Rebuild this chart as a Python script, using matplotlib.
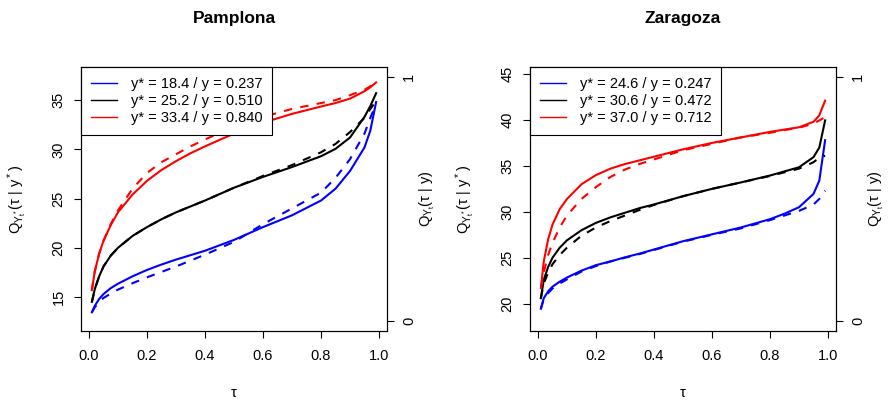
import matplotlib
matplotlib.use("Agg")
import matplotlib.pyplot as plt
from matplotlib.lines import Line2D

plt.rcParams['font.family'] = ['Liberation Sans', 'DejaVu Sans']
plt.rcParams['mathtext.fontset'] = 'custom'
plt.rcParams['mathtext.rm'] = 'Liberation Sans'
plt.rcParams['mathtext.it'] = 'Liberation Sans'
plt.rcParams['mathtext.bf'] = 'Liberation Sans:bold'

tau = [0.01, 0.02, 0.035, 0.05, 0.075, 0.1, 0.15, 0.2, 0.25, 0.3, 0.35, 0.4,
       0.5, 0.6, 0.7, 0.8, 0.85, 0.9, 0.95, 0.97, 0.99]

# Pamplona
pam_labels = ["y* = 18.4 / y = 0.237", "y* = 25.2 / y = 0.510", "y* = 33.4 / y = 0.840"]
pam_blue_solid = [13.45, 14.1, 14.8, 15.3, 15.9, 16.35, 17.1, 17.75, 18.3, 18.8, 19.25, 19.7,
                  20.8, 22.1, 23.3, 24.8, 26.0, 27.8, 30.2, 31.9, 34.8]
pam_blue_dash = [13.45, 13.95, 14.5, 14.9, 15.35, 15.75, 16.4, 17.0, 17.55, 18.1, 18.7, 19.3,
                 20.6, 22.4, 24.0, 25.6, 27.1, 29.0, 31.6, 33.2, 34.6]
pam_black_solid = [14.5, 15.8, 17.1, 18.1, 19.2, 20.0, 21.2, 22.1, 22.9, 23.6, 24.2, 24.8,
                   26.1, 27.2, 28.2, 29.3, 30.05, 31.2, 33.3, 34.4, 35.7]
pam_black_dash = [14.5, 15.8, 17.1, 18.1, 19.2, 20.0, 21.2, 22.1, 22.9, 23.6, 24.2, 24.8,
                  26.1, 27.3, 28.4, 29.7, 30.55, 31.75, 33.2, 34.1, 34.9]
pam_red_solid = [15.7, 17.6, 19.4, 20.7, 22.3, 23.6, 25.4, 26.8, 27.9, 28.8, 29.6, 30.3,
                 31.6, 32.7, 33.6, 34.35, 34.7, 35.15, 35.9, 36.3, 36.8]
pam_red_dash = [15.7, 17.6, 19.4, 20.7, 22.4, 23.8, 26.0, 27.6, 28.7, 29.5, 30.3, 31.0,
                32.3, 33.3, 34.1, 34.7, 35.0, 35.5, 36.05, 36.4, 36.8]

# Zaragoza
zar_labels = ["y* = 24.6 / y = 0.247", "y* = 30.6 / y = 0.472", "y* = 37.0 / y = 0.712"]
zar_blue_solid = [19.45, 20.6, 21.35, 21.85, 22.4, 22.85, 23.6, 24.2, 24.6, 25.05, 25.45, 25.9,
                  26.8, 27.55, 28.3, 29.2, 29.8, 30.5, 31.95, 33.4, 37.8]
zar_blue_dash = [19.45, 20.5, 21.15, 21.65, 22.2, 22.65, 23.5, 24.1, 24.6, 25.0, 25.4, 25.85,
                 26.75, 27.5, 28.2, 29.1, 29.6, 30.1, 30.8, 31.4, 32.3]
zar_black_solid = [20.6, 22.6, 24.0, 25.0, 26.1, 26.9, 28.0, 28.8, 29.4, 29.9, 30.4, 30.8,
                   31.7, 32.5, 33.2, 33.95, 34.4, 34.85, 35.95, 37.0, 39.95]
zar_black_dash = [20.6, 22.2, 23.4, 24.3, 25.3, 26.1, 27.4, 28.3, 29.0, 29.6, 30.2, 30.75,
                  31.7, 32.5, 33.2, 33.9, 34.3, 34.7, 35.4, 35.9, 36.1]
zar_red_solid = [21.7, 24.6, 27.0, 28.6, 30.3, 31.4, 33.0, 34.0, 34.7, 35.2, 35.6, 36.0,
                 36.8, 37.5, 38.1, 38.7, 38.95, 39.2, 39.8, 40.5, 42.1]
zar_red_dash = [21.7, 23.4, 25.3, 26.6, 28.3, 29.6, 31.4, 32.7, 33.8, 34.6, 35.2, 35.7,
                36.7, 37.4, 38.1, 38.6, 38.9, 39.15, 39.6, 39.95, 40.3]

x_ticks = [0.0, 0.2, 0.4, 0.6, 0.8, 1.0]
x_ticklabels = ["0.0", "0.2", "0.4", "0.6", "0.8", "1.0"]
pam_yticks = [15, 20, 25, 30, 35]
zar_yticks = [20, 25, 30, 35, 40, 45]
right_ticks = [0, 1]
right_ticklabels = ["0", "1"]

colors = ["#0000FF", "#000000", "#FF0000"]

panels = [
    dict(title="Pamplona", labels=pam_labels,
         series=[(pam_blue_solid, pam_blue_dash), (pam_black_solid, pam_black_dash),
                 (pam_red_solid, pam_red_dash)],
         ylim=(11.55, 38.36), yticks=pam_yticks, left=81, ylab_x=17, rlab_x=427),
    dict(title="Zaragoza", labels=zar_labels,
         series=[(zar_blue_solid, zar_blue_dash), (zar_black_solid, zar_black_dash),
                 (zar_red_solid, zar_red_dash)],
         ylim=(17.03, 45.76), yticks=zar_yticks, left=530, ylab_x=465, rlab_x=876),
]

W, H = 888, 403
fig = plt.figure(figsize=(W / 100, H / 100), dpi=100)
FS = 10.5
AX_W, AX_TOP, AX_BOT = 306, 67, 331

for p in panels:
    ax = fig.add_axes([p['left'] / W, 1 - AX_BOT / H, AX_W / W, (AX_BOT - AX_TOP) / H])
    for (solid, dash), c in zip(p['series'], colors):
        ax.plot(tau, solid, color=c, lw=1.5)
        ax.plot(tau, dash, color=c, lw=1.5, dashes=(4, 4))
    ax.set_xlim(-0.0275, 1.0275)
    ax.set_ylim(*p['ylim'])
    ax.set_xticks(x_ticks)
    ax.set_xticklabels(x_ticklabels)
    ax.set_yticks(p['yticks'])
    ax.tick_params(axis='both', direction='out', length=5, width=0.8, labelsize=FS, colors='black')
    ax.tick_params(axis='x', pad=8)
    ax.tick_params(axis='y', pad=6, labelrotation=90)
    for lab in ax.get_yticklabels():
        lab.set_verticalalignment('center')
    for s in ax.spines.values():
        s.set_linewidth(0.8)

    ax2 = ax.twinx()
    ax2.set_ylim(-0.04, 1.04)
    ax2.set_yticks(right_ticks)
    ax2.set_yticklabels(right_ticklabels)
    ax2.tick_params(axis='y', direction='out', length=5, width=0.8, labelsize=FS, pad=6,
                    labelrotation=90)
    for lab in ax2.get_yticklabels():
        lab.set_verticalalignment('center')
    for s in ax2.spines.values():
        s.set_linewidth(0.8)

    cx = (p['left'] + AX_W / 2) / W
    cy = 1 - ((AX_TOP + AX_BOT) / 2) / H
    fig.text(cx, 1 - 18 / H, p['title'], fontsize=12.5, fontweight='bold', ha='center', va='center')
    fig.text(cx, 1 - 393 / H, r'$\tau$', fontsize=FS, ha='center', va='center')
    fig.text(p['ylab_x'] / W, cy, r'$Q_{Y_t^*}(\tau\ |\ y^*)$', fontsize=FS, rotation=90,
             ha='center', va='center')
    fig.text(p['rlab_x'] / W, cy, r'$Q_{Y_t}(\tau\ |\ y)$', fontsize=FS, rotation=90,
             ha='center', va='center')

    handles = [Line2D([0], [0], color=c, lw=1.0) for c in colors]
    leg = ax.legend(handles, p['labels'], loc='upper left', bbox_to_anchor=(0, 1), fontsize=FS,
                    frameon=True, fancybox=False, edgecolor='black', framealpha=1,
                    borderaxespad=0, handlelength=1.8, handletextpad=0.9,
                    borderpad=0.7, labelspacing=0.2)
    leg.get_frame().set_linewidth(0.8)

fig.savefig("out.png", dpi=100)
